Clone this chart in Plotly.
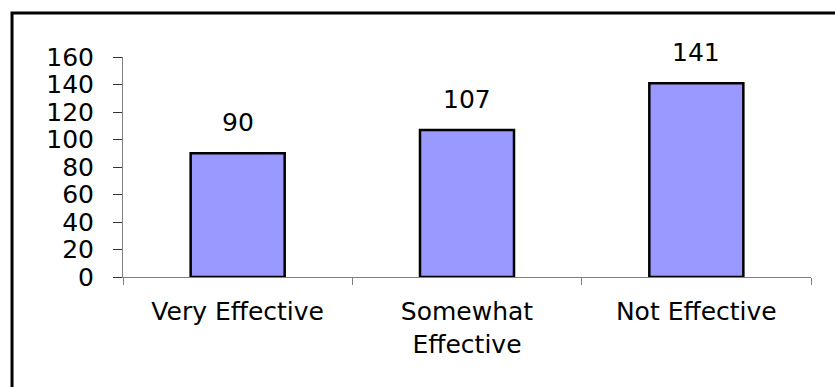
import plotly.graph_objects as go

categories = ["Very Effective", "Somewhat<br>Effective", "Not Effective"]
counts = [90, 107, 141]
y_ticks = [0, 20, 40, 60, 80, 100, 120, 140, 160]

FONT = "DejaVu Sans"

fig = go.Figure()
fig.add_trace(go.Bar(
    x=categories,
    y=counts,
    width=0.41,
    marker=dict(color="#9999FF", line=dict(color="black", width=2.5)),
    hoverinfo="skip",
))

# value labels above each bar
for cat, val in zip(categories, counts):
    fig.add_annotation(
        x=cat, y=val, text=str(val), showarrow=False,
        yanchor="bottom", yshift=14,
        font=dict(family=FONT, size=25, color="black"),
    )

# outer frame around the chart
fig.add_shape(
    type="rect", xref="paper", yref="paper",
    x0=-0.1613, x1=1.5, y0=-1.0, y1=1.2,
    line=dict(color="black", width=3), fillcolor="rgba(0,0,0,0)",
    layer="above",
)

fig.update_layout(
    width=835, height=387,
    margin=dict(l=123, r=24, t=57, b=110),
    paper_bgcolor="white", plot_bgcolor="white",
    showlegend=False,
    font=dict(family=FONT, size=25, color="black"),
    bargap=0.59,
)
fig.update_xaxes(
    showline=True, linecolor="#808080", linewidth=1,
    ticks="outside", ticklen=7, tickcolor="#808080", tickwidth=1,
    tickson="boundaries", showgrid=False,
    tickfont=dict(family=FONT, size=25, color="black"),
    ticklabelstandoff=12,
)
fig.update_yaxes(
    range=[0, 160], tickvals=y_ticks,
    showline=True, linecolor="#808080", linewidth=1,
    ticks="outside", ticklen=9, tickcolor="#333333", tickwidth=1,
    showgrid=False, zeroline=False,
    tickfont=dict(family=FONT, size=25, color="black"),
    ticklabelstandoff=14,
)

fig.write_html("out.html")
